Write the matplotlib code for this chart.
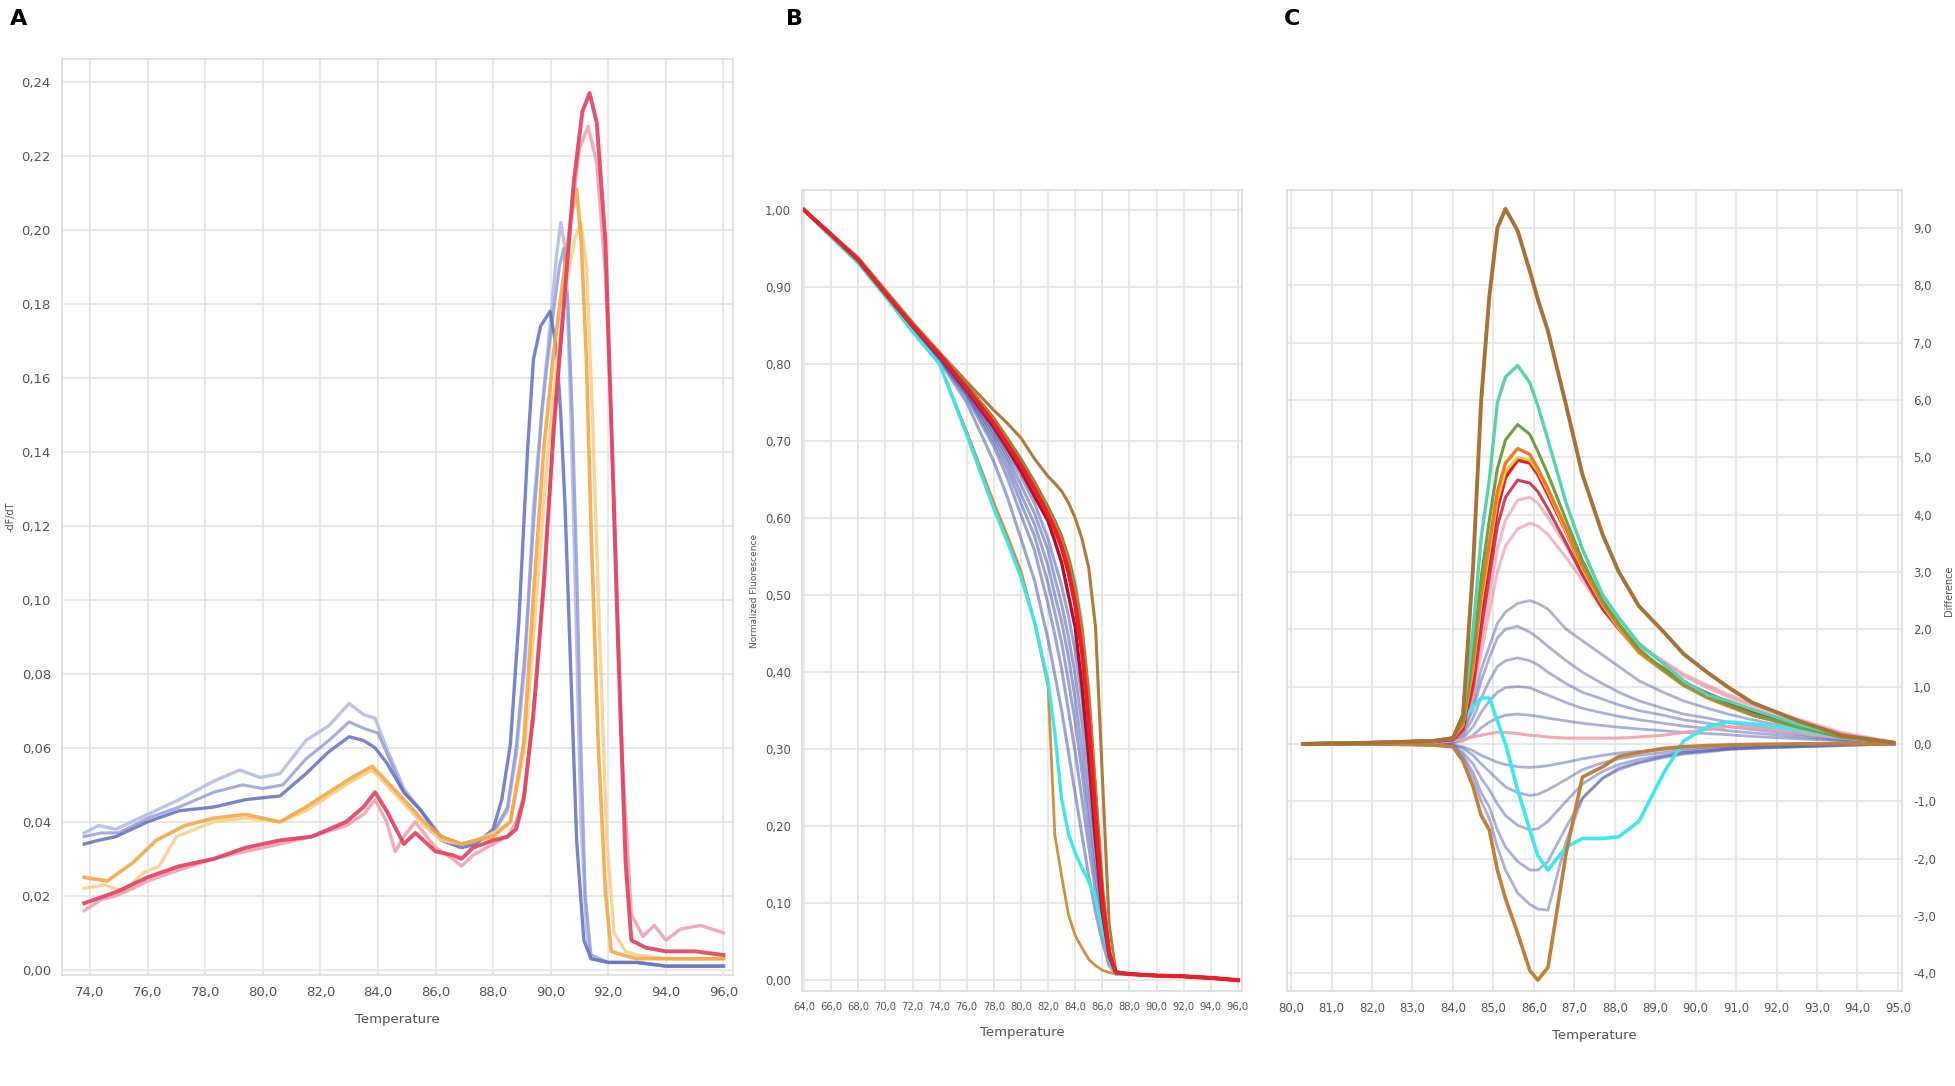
import numpy as np
import matplotlib
matplotlib.use("Agg")
import matplotlib.pyplot as plt
from matplotlib.ticker import FuncFormatter

# ---------------- panel A data (-dF/dT vs temperature) ----------------
a_blue_light_x = [73.8, 74.3, 74.9, 76.0, 77.1, 78.3, 79.2, 79.9, 80.6, 81.5, 82.3, 83.0, 83.5, 83.9, 84.3,
                  84.9, 85.5, 86.2, 86.9, 87.4, 88.0, 88.5, 88.8, 89.1, 89.4, 89.8, 90.0, 90.2, 90.35, 90.5,
                  90.6, 90.7, 90.8, 90.9, 91.05, 91.25, 91.4, 92.0, 93.0, 94.0, 95.0, 96.0]
a_blue_light_y = [0.037, 0.039, 0.038, 0.042, 0.046, 0.051, 0.054, 0.052, 0.053, 0.062, 0.066, 0.072, 0.069,
                  0.068, 0.060, 0.049, 0.043, 0.036, 0.034, 0.035, 0.037, 0.043, 0.058, 0.082, 0.125, 0.160,
                  0.176, 0.193, 0.202, 0.195, 0.175, 0.150, 0.120, 0.088, 0.040, 0.010, 0.003, 0.002, 0.002,
                  0.001, 0.001, 0.001]
a_blue_mid_x = [73.8, 74.4, 75.0, 76.0, 77.1, 78.3, 79.3, 80.0, 80.7, 81.5, 82.3, 83.0, 83.6, 84.0, 84.4,
                84.9, 85.5, 86.2, 86.9, 87.4, 88.0, 88.5, 88.8, 89.1, 89.4, 89.7, 90.0, 90.3, 90.45, 90.6,
                90.75, 90.9, 91.05, 91.2, 91.4, 92.0, 93.0, 94.0, 95.0, 96.0]
a_blue_mid_y = [0.036, 0.037, 0.037, 0.041, 0.044, 0.048, 0.050, 0.049, 0.050, 0.057, 0.062, 0.067, 0.065,
                0.064, 0.057, 0.048, 0.043, 0.036, 0.034, 0.035, 0.037, 0.044, 0.060, 0.085, 0.120, 0.152,
                0.172, 0.190, 0.195, 0.180, 0.150, 0.110, 0.060, 0.020, 0.004, 0.002, 0.002, 0.001, 0.001, 0.001]
a_blue_dark_x = [73.8, 74.3, 74.9, 76.0, 77.1, 78.3, 79.4, 80.6, 81.5, 82.3, 83.0, 83.5, 83.9, 84.3, 84.9,
                 85.5, 86.2, 86.9, 87.4, 88.0, 88.3, 88.6, 88.9, 89.2, 89.4, 89.65, 89.98, 90.2, 90.35, 90.5,
                 90.7, 90.9, 91.15, 91.4, 92.0, 93.0, 94.0, 95.0, 96.0]
a_blue_dark_y = [0.034, 0.035, 0.036, 0.040, 0.043, 0.044, 0.046, 0.047, 0.053, 0.059, 0.063, 0.062, 0.060,
                 0.056, 0.048, 0.043, 0.035, 0.033, 0.034, 0.038, 0.046, 0.061, 0.095, 0.141, 0.165, 0.174,
                 0.178, 0.168, 0.150, 0.125, 0.080, 0.035, 0.008, 0.003, 0.002, 0.002, 0.001, 0.001, 0.001]
a_orange_x = [73.8, 74.6, 75.5, 76.3, 77.3, 78.3, 79.4, 80.6, 81.5, 82.3, 83.1, 83.8, 84.3, 84.9, 85.6, 86.2,
              86.9, 87.4, 88.0, 88.6, 89.06, 89.4, 89.76, 90.12, 90.47, 90.7, 90.9, 91.06, 91.24, 91.41, 91.65,
              91.9, 92.1, 92.5, 93.0, 94.0, 95.0, 96.0]
a_orange_y = [0.025, 0.024, 0.029, 0.035, 0.039, 0.041, 0.042, 0.040, 0.044, 0.048, 0.052, 0.055, 0.051, 0.046,
              0.040, 0.036, 0.034, 0.035, 0.036, 0.040, 0.061, 0.101, 0.141, 0.168, 0.189, 0.203, 0.211, 0.197,
              0.165, 0.117, 0.061, 0.021, 0.005, 0.004, 0.003, 0.003, 0.003, 0.003]
a_orange_pale_x = [73.8, 74.5, 75.2, 75.8, 76.4, 77.0, 78.3, 79.4, 80.6, 81.5, 82.3, 83.1, 83.8, 84.3, 84.9,
                   85.6, 86.2, 86.9, 87.4, 88.0, 88.6, 89.1, 89.5, 89.9, 90.3, 90.6, 90.85, 91.05, 91.25, 91.45,
                   91.7, 91.95, 92.2, 92.6, 93.0, 94.0, 95.0, 96.0]
a_orange_pale_y = [0.022, 0.023, 0.021, 0.026, 0.028, 0.036, 0.040, 0.041, 0.040, 0.043, 0.047, 0.051, 0.054,
                   0.050, 0.045, 0.039, 0.035, 0.034, 0.035, 0.037, 0.040, 0.060, 0.100, 0.140, 0.170, 0.188,
                   0.198, 0.202, 0.190, 0.150, 0.090, 0.035, 0.010, 0.005, 0.004, 0.003, 0.003, 0.003]
a_red_x = [73.8, 74.9, 76.0, 77.1, 78.3, 79.4, 80.6, 81.7, 82.9, 83.5, 83.9, 84.3, 84.9, 85.3, 86.0, 86.6, 86.9,
           87.3, 88.0, 88.5, 88.8, 89.06, 89.4, 89.76, 90.1, 90.47, 90.8, 91.1, 91.35, 91.6, 91.9, 92.1, 92.35,
           92.6, 92.8, 93.3, 94.0, 95.0, 96.0]
a_red_y = [0.018, 0.021, 0.025, 0.028, 0.030, 0.033, 0.035, 0.036, 0.040, 0.044, 0.048, 0.043, 0.034, 0.037,
           0.032, 0.031, 0.030, 0.033, 0.035, 0.036, 0.038, 0.046, 0.069, 0.104, 0.146, 0.181, 0.213, 0.232,
           0.237, 0.229, 0.197, 0.149, 0.085, 0.029, 0.008, 0.006, 0.005, 0.005, 0.004]
a_pink_x = [73.8, 74.4, 74.9, 75.5, 76.0, 77.1, 78.3, 79.4, 80.6, 81.7, 82.9, 83.5, 83.9, 84.3, 84.6, 84.9, 85.3,
            86.0, 86.6, 86.9, 87.3, 88.0, 88.5, 88.8, 89.1, 89.5, 89.9, 90.3, 90.7, 91.0, 91.3, 91.6, 91.9, 92.2,
            92.5, 92.8, 93.2, 93.6, 94.0, 94.5, 95.2, 96.0]
a_pink_y = [0.016, 0.019, 0.020, 0.022, 0.024, 0.027, 0.030, 0.032, 0.034, 0.036, 0.039, 0.042, 0.046, 0.040,
            0.032, 0.036, 0.040, 0.033, 0.030, 0.028, 0.031, 0.034, 0.036, 0.040, 0.048, 0.078, 0.122, 0.165,
            0.203, 0.222, 0.228, 0.218, 0.188, 0.128, 0.055, 0.015, 0.009, 0.012, 0.008, 0.011, 0.012, 0.010]

a_xticks = [74, 76, 78, 80, 82, 84, 86, 88, 90, 92, 94, 96]
a_yticks = [0.00, 0.02, 0.04, 0.06, 0.08, 0.10, 0.12, 0.14, 0.16, 0.18, 0.20, 0.22, 0.24]

# ---------------- panel B data (normalized fluorescence) ----------------
b_x = [64, 66, 68, 70, 72, 74, 76, 78, 79, 80, 81, 82, 82.5, 83, 83.5, 84, 84.5, 85, 85.5, 86, 86.5, 87,
       88, 90, 92, 94, 96]
b_tail = [0.008, 0.006, 0.005, 0.003, 0.000]
b_brown_r = [1.000, 0.969, 0.938, 0.896, 0.854, 0.815, 0.777, 0.740, 0.723, 0.704, 0.677, 0.654, 0.645, 0.635,
             0.620, 0.600, 0.573, 0.535, 0.458, 0.265, 0.073, 0.010] + b_tail
b_red = [1.000, 0.968, 0.935, 0.892, 0.850, 0.812, 0.769, 0.723, 0.696, 0.669, 0.638, 0.604, 0.585, 0.562,
         0.530, 0.488, 0.427, 0.335, 0.212, 0.104, 0.035, 0.010] + b_tail
b_orange = [1.000, 0.968, 0.935, 0.892, 0.850, 0.813, 0.771, 0.727, 0.700, 0.673, 0.643, 0.610, 0.592, 0.572,
            0.542, 0.504, 0.450, 0.365, 0.242, 0.119, 0.038, 0.011] + b_tail
b_green = [1.000, 0.968, 0.936, 0.893, 0.851, 0.814, 0.773, 0.730, 0.704, 0.677, 0.647, 0.615, 0.597, 0.577,
           0.550, 0.512, 0.458, 0.372, 0.250, 0.123, 0.040, 0.011] + b_tail
b_cyan_r = [1.000, 0.968, 0.935, 0.892, 0.850, 0.814, 0.772, 0.729, 0.703, 0.677, 0.648, 0.612, 0.595, 0.573,
            0.550, 0.519, 0.465, 0.381, 0.242, 0.127, 0.042, 0.010] + b_tail
b_dark_red = [1.000, 0.968, 0.935, 0.891, 0.849, 0.810, 0.766, 0.718, 0.690, 0.661, 0.628, 0.596, 0.570, 0.542,
              0.500, 0.458, 0.381, 0.288, 0.181, 0.088, 0.031, 0.010] + b_tail
b_cyan_l = [1.000, 0.965, 0.931, 0.888, 0.842, 0.800, 0.708, 0.612, 0.569, 0.523, 0.465, 0.388, 0.320, 0.235,
            0.190, 0.165, 0.146, 0.128, 0.108, 0.065, 0.027, 0.008] + b_tail
b_brown_l = [1.000, 0.965, 0.931, 0.888, 0.842, 0.800, 0.712, 0.620, 0.577, 0.531, 0.465, 0.381, 0.188, 0.135,
             0.085, 0.058, 0.042, 0.027, 0.019, 0.013, 0.010, 0.008] + b_tail
b_blue = [
    [1.000, 0.967, 0.933, 0.890, 0.846, 0.804, 0.750, 0.673, 0.627, 0.573, 0.519, 0.442, 0.396, 0.350, 0.296,
     0.242, 0.188, 0.135, 0.088, 0.050, 0.019, 0.008] + b_tail,
    [1.000, 0.967, 0.933, 0.891, 0.847, 0.806, 0.757, 0.693, 0.652, 0.604, 0.558, 0.488, 0.448, 0.404, 0.350,
     0.296, 0.235, 0.173, 0.115, 0.065, 0.025, 0.009] + b_tail,
    [1.000, 0.968, 0.934, 0.891, 0.847, 0.807, 0.760, 0.700, 0.663, 0.619, 0.577, 0.515, 0.477, 0.438, 0.388,
     0.335, 0.270, 0.200, 0.135, 0.077, 0.029, 0.009] + b_tail,
    [1.000, 0.968, 0.934, 0.892, 0.848, 0.808, 0.762, 0.706, 0.672, 0.631, 0.592, 0.538, 0.500, 0.465, 0.420,
     0.365, 0.300, 0.227, 0.154, 0.088, 0.032, 0.010] + b_tail,
    [1.000, 0.968, 0.934, 0.892, 0.848, 0.808, 0.764, 0.711, 0.679, 0.643, 0.606, 0.558, 0.522, 0.488, 0.446,
     0.396, 0.333, 0.258, 0.177, 0.096, 0.035, 0.010] + b_tail,
    [1.000, 0.968, 0.934, 0.892, 0.848, 0.809, 0.765, 0.715, 0.685, 0.654, 0.619, 0.573, 0.542, 0.512, 0.473,
     0.427, 0.365, 0.288, 0.196, 0.104, 0.038, 0.010] + b_tail,
]
b_xticks = [64, 66, 68, 70, 72, 74, 76, 78, 80, 82, 84, 86, 88, 90, 92, 94, 96]
b_yticks = [0.0, 0.1, 0.2, 0.3, 0.4, 0.5, 0.6, 0.7, 0.8, 0.9, 1.0]

# ---------------- panel C data (difference plot) ----------------
c_x = [80.3, 82.0, 83.5, 84.0, 84.25, 84.5, 84.7, 84.9, 85.1, 85.3, 85.6, 85.9, 86.1, 86.35, 86.8, 87.2, 87.7,
       88.1, 88.6, 89.2, 89.7, 90.3, 90.8, 91.4, 92.5, 93.6, 94.9]
c_brown_pos = [0.0, 0.02, 0.05, 0.1, 0.5, 3.1, 6.0, 7.8, 9.0, 9.33, 8.95, 8.25, 7.75, 7.2, 5.9, 4.7, 3.65, 3.0,
               2.4, 1.96, 1.57, 1.24, 0.99, 0.72, 0.41, 0.15, 0.02]
c_brown_neg = [0.0, 0.0, -0.02, -0.05, -0.3, -0.75, -1.25, -1.5, -2.2, -2.7, -3.3, -3.95, -4.12, -3.9, -1.9,
               -0.58, -0.4, -0.22, -0.15, -0.08, -0.05, -0.03, -0.02, -0.01, 0.0, 0.0, 0.0]
c_teal = [0.0, 0.02, 0.05, 0.1, 0.5, 2.0, 3.6, 4.6, 5.95, 6.4, 6.6, 6.3, 5.9, 5.3, 4.2, 3.4, 2.6, 2.2, 1.75,
          1.4, 1.1, 0.85, 0.75, 0.6, 0.35, 0.15, 0.02]
c_olive = [0.0, 0.02, 0.05, 0.1, 0.4, 1.6, 2.9, 3.9, 4.8, 5.3, 5.57, 5.4, 5.1, 4.7, 3.9, 3.2, 2.5, 2.1, 1.65,
           1.3, 1.05, 0.82, 0.68, 0.52, 0.3, 0.12, 0.02]
c_orange = [0.0, 0.02, 0.05, 0.1, 0.35, 1.4, 2.6, 3.5, 4.4, 4.9, 5.15, 5.05, 4.8, 4.45, 3.75, 3.1, 2.45, 2.05,
            1.6, 1.28, 1.02, 0.8, 0.66, 0.5, 0.3, 0.12, 0.02]
c_yellow = [0.0, 0.02, 0.05, 0.09, 0.32, 1.3, 2.45, 3.35, 4.25, 4.75, 5.0, 4.95, 4.75, 4.4, 3.7, 3.05, 2.42,
            2.02, 1.58, 1.27, 1.02, 0.8, 0.66, 0.5, 0.3, 0.12, 0.02]
c_red = [0.0, 0.02, 0.05, 0.08, 0.3, 1.2, 2.3, 3.2, 4.1, 4.65, 4.95, 4.9, 4.7, 4.35, 3.7, 3.05, 2.4, 2.05, 1.6,
         1.3, 1.05, 0.85, 0.7, 0.55, 0.32, 0.13, 0.02]
c_dark_red = [0.0, 0.02, 0.04, 0.07, 0.25, 1.0, 2.0, 2.9, 3.8, 4.3, 4.6, 4.55, 4.4, 4.1, 3.5, 2.95, 2.35, 2.0,
              1.6, 1.32, 1.08, 0.88, 0.74, 0.58, 0.34, 0.14, 0.02]
c_pink = [
    [0.0, 0.02, 0.04, 0.08, 0.25, 0.9, 1.8, 2.6, 3.4, 3.9, 4.25, 4.3, 4.2, 3.95, 3.45, 2.95, 2.4, 2.05, 1.7,
     1.42, 1.18, 0.98, 0.82, 0.66, 0.4, 0.18, 0.02],
    [0.0, 0.02, 0.04, 0.07, 0.2, 0.8, 1.6, 2.3, 3.0, 3.45, 3.75, 3.85, 3.8, 3.65, 3.25, 2.85, 2.35, 2.05, 1.72,
     1.45, 1.22, 1.02, 0.86, 0.7, 0.44, 0.2, 0.03],
]
c_pink_flat = [0.0, 0.0, 0.02, 0.05, 0.08, 0.12, 0.15, 0.18, 0.2, 0.2, 0.18, 0.15, 0.14, 0.12, 0.1, 0.1, 0.1,
               0.1, 0.12, 0.15, 0.2, 0.25, 0.3, 0.28, 0.2, 0.1, 0.02]
c_cyan = [0.0, 0.02, 0.05, 0.1, 0.4, 0.65, 0.8, 0.8, 0.4, 0.0, -0.8, -1.5, -1.95, -2.2, -1.8, -1.65, -1.65,
          -1.62, -1.35, -0.52, 0.05, 0.3, 0.38, 0.35, 0.25, 0.12, 0.02]
c_blue = [
    [0.0, 0.0, 0.02, 0.05, 0.2, 0.7, 1.3, 1.7, 2.1, 2.3, 2.45, 2.5, 2.45, 2.35, 2.0, 1.8, 1.55, 1.35, 1.1, 0.9,
     0.75, 0.62, 0.52, 0.42, 0.26, 0.12, 0.02],
    [0.0, 0.0, 0.02, 0.04, 0.2, 0.6, 1.1, 1.5, 1.85, 2.0, 2.05, 1.95, 1.85, 1.7, 1.45, 1.25, 1.05, 0.9, 0.75,
     0.62, 0.52, 0.45, 0.38, 0.3, 0.2, 0.1, 0.02],
    [0.0, 0.0, 0.02, 0.03, 0.15, 0.45, 0.8, 1.1, 1.35, 1.45, 1.5, 1.45, 1.38, 1.25, 1.05, 0.9, 0.78, 0.68, 0.58,
     0.5, 0.42, 0.36, 0.3, 0.25, 0.17, 0.08, 0.02],
    [0.0, 0.0, 0.01, 0.02, 0.1, 0.3, 0.55, 0.75, 0.9, 0.98, 1.0, 0.98, 0.92, 0.85, 0.72, 0.62, 0.54, 0.48, 0.42,
     0.36, 0.31, 0.27, 0.23, 0.19, 0.13, 0.06, 0.01],
    [0.0, 0.0, 0.01, 0.02, 0.05, 0.15, 0.28, 0.38, 0.45, 0.5, 0.52, 0.5, 0.48, 0.45, 0.4, 0.36, 0.32, 0.29, 0.26,
     0.23, 0.2, 0.18, 0.16, 0.13, 0.09, 0.05, 0.01],
    [0.0, 0.0, -0.01, -0.02, -0.05, -0.12, -0.2, -0.26, -0.32, -0.36, -0.4, -0.41, -0.4, -0.38, -0.32, -0.26,
     -0.2, -0.16, -0.13, -0.1, -0.08, -0.06, -0.05, -0.04, -0.03, -0.01, 0.0],
    [0.0, 0.0, -0.01, -0.02, -0.08, -0.2, -0.35, -0.48, -0.62, -0.75, -0.85, -0.9, -0.88, -0.8, -0.62, -0.45,
     -0.33, -0.26, -0.2, -0.15, -0.12, -0.09, -0.07, -0.05, -0.03, -0.01, 0.0],
    [0.0, 0.0, -0.01, -0.03, -0.15, -0.35, -0.6, -0.8, -1.05, -1.25, -1.42, -1.5, -1.48, -1.35, -1.0, -0.7,
     -0.48, -0.36, -0.27, -0.2, -0.15, -0.12, -0.09, -0.07, -0.05, -0.02, 0.0],
    [0.0, 0.0, -0.02, -0.04, -0.2, -0.5, -0.85, -1.1, -1.5, -1.8, -2.05, -2.2, -2.2, -2.05, -1.45, -0.95, -0.6,
     -0.45, -0.33, -0.24, -0.18, -0.14, -0.1, -0.08, -0.05, -0.03, 0.0],
    [0.0, 0.0, -0.02, -0.05, -0.25, -0.6, -1.0, -1.3, -1.8, -2.2, -2.6, -2.8, -2.88, -2.9, -1.7, -0.95, -0.6,
     -0.42, -0.32, -0.22, -0.16, -0.12, -0.09, -0.07, -0.05, -0.03, 0.0],
]
c_xticks = list(range(80, 96))
c_yticks = list(range(-4, 10))

# ---------------- drawing ----------------
W, H = 1955, 1086
fig = plt.figure(figsize=(W / 100, H / 100), dpi=100)

GRID = "#e6e6e6"
TICK_COL = "#555555"


def style_axes(ax):
    ax.grid(True, color=GRID, lw=1.3)
    ax.set_axisbelow(True)
    for s in ax.spines.values():
        s.set_color("#dcdcdc")
        s.set_linewidth(1.2)
    ax.tick_params(length=0, labelsize=9.5, labelcolor=TICK_COL, pad=8)


def comma(fmt):
    return FuncFormatter(lambda v, _: fmt.format(v).replace(".", ","))


def px_axes(left, top, right, bottom):
    return fig.add_axes([left / W, 1 - bottom / H, (right - left) / W, (bottom - top) / H])


# Panel A
axA = px_axes(62, 59, 733, 975)
style_axes(axA)
axA.plot(a_blue_light_x, a_blue_light_y, color="#b4bde6", lw=2.4, alpha=0.9)
axA.plot(a_blue_mid_x, a_blue_mid_y, color="#8d9ad6", lw=2.2, alpha=0.8)
axA.plot(a_blue_dark_x, a_blue_dark_y, color="#5f70c2", lw=2.4, alpha=0.85)
axA.plot(a_orange_pale_x, a_orange_pale_y, color="#fbd08a", lw=2.4, alpha=0.9)
axA.plot(a_orange_x, a_orange_y, color="#f6a23c", lw=2.6, alpha=0.85)
axA.plot(a_pink_x, a_pink_y, color="#f29aaa", lw=2.4, alpha=0.85)
axA.plot(a_red_x, a_red_y, color="#e0405e", lw=2.8, alpha=0.9)
axA.set_xlim(73.03, 96.33)
axA.set_ylim(-0.0014, 0.2462)
axA.set_xticks(a_xticks)
axA.set_yticks(a_yticks)
axA.xaxis.set_major_formatter(comma("{:.1f}"))
axA.yaxis.set_major_formatter(comma("{:.2f}"))
axA.set_xlabel("Temperature", fontsize=9.5, color=TICK_COL, labelpad=10)
axA.set_ylabel("-dF/dT", fontsize=7, color=TICK_COL, labelpad=4)

# Panel B
axB = px_axes(802, 190, 1242, 991)
style_axes(axB)
for yb in b_blue:
    axB.plot(b_x, yb, color="#4b5ab0", lw=2.2, alpha=0.55)
axB.plot(b_x, b_brown_l, color="#d09040", lw=2.0)
axB.plot(b_x, b_cyan_l, color="#3ee6ec", lw=2.4)
axB.plot(b_x, b_brown_r, color="#b07a3a", lw=2.2)
axB.plot(b_x, b_cyan_r, color="#9cf0ec", lw=2.2)
axB.plot(b_x, b_green, color="#4f9a4a", lw=2.0)
axB.plot(b_x, b_orange, color="#f06a1e", lw=2.4)
axB.plot(b_x, b_dark_red, color="#b0102a", lw=2.4)
axB.plot(b_x, b_red, color="#e8202a", lw=3.0)
axB.set_xlim(63.85, 96.3)
axB.set_ylim(-0.014, 1.026)
axB.set_xticks(b_xticks)
axB.set_yticks(b_yticks)
axB.xaxis.set_major_formatter(comma("{:.1f}"))
axB.yaxis.set_major_formatter(comma("{:.2f}"))
axB.tick_params(axis="x", labelsize=7.2)
axB.tick_params(axis="y", labelsize=8.5)
axB.set_xlabel("Temperature", fontsize=9.5, color=TICK_COL, labelpad=10)
axB.set_ylabel("Normalized Fluorescence", fontsize=6.5, color=TICK_COL, labelpad=4)

# Panel C
axC = px_axes(1287, 190, 1902, 991)
style_axes(axC)
axC.yaxis.tick_right()
axC.yaxis.set_label_position("right")
for yc in c_blue:
    axC.plot(c_x, yc, color="#5564b8", lw=2.0, alpha=0.5)
axC.plot(c_x, c_pink_flat, color="#f4a0a8", lw=2.2, alpha=0.9)
for yc in c_pink:
    axC.plot(c_x, yc, color="#ee8aa0", lw=2.2, alpha=0.6)
axC.plot(c_x, c_dark_red, color="#c8203c", lw=2.2, alpha=0.85)
axC.plot(c_x, c_cyan, color="#40e6f0", lw=2.6)
axC.plot(c_x, c_red, color="#e0202e", lw=2.6)
axC.plot(c_x, c_yellow, color="#e8d040", lw=2.0)
axC.plot(c_x, c_orange, color="#f07a22", lw=2.4)
axC.plot(c_x, c_olive, color="#6ea040", lw=2.2)
axC.plot(c_x, c_teal, color="#56d2b0", lw=2.4)
axC.plot(c_x, c_brown_neg, color="#c0803a", lw=2.6)
axC.plot(c_x, c_brown_pos, color="#a87236", lw=2.8)
axC.set_xlim(79.9, 95.1)
axC.set_ylim(-4.31, 9.66)
axC.set_xticks(c_xticks)
axC.set_yticks(c_yticks)
axC.xaxis.set_major_formatter(comma("{:.1f}"))
axC.yaxis.set_major_formatter(comma("{:.1f}"))
axC.tick_params(labelsize=8.5)
axC.set_xlabel("Temperature", fontsize=9.5, color=TICK_COL, labelpad=10)
axC.set_ylabel("Difference", fontsize=7, color=TICK_COL, labelpad=6)

for letter, xp in [("A", 10), ("B", 786), ("C", 1284)]:
    fig.text(xp / W, 1 - 19 / H, letter, fontsize=16, fontweight="bold", va="center", ha="left")

fig.savefig("out.png", dpi=100)
